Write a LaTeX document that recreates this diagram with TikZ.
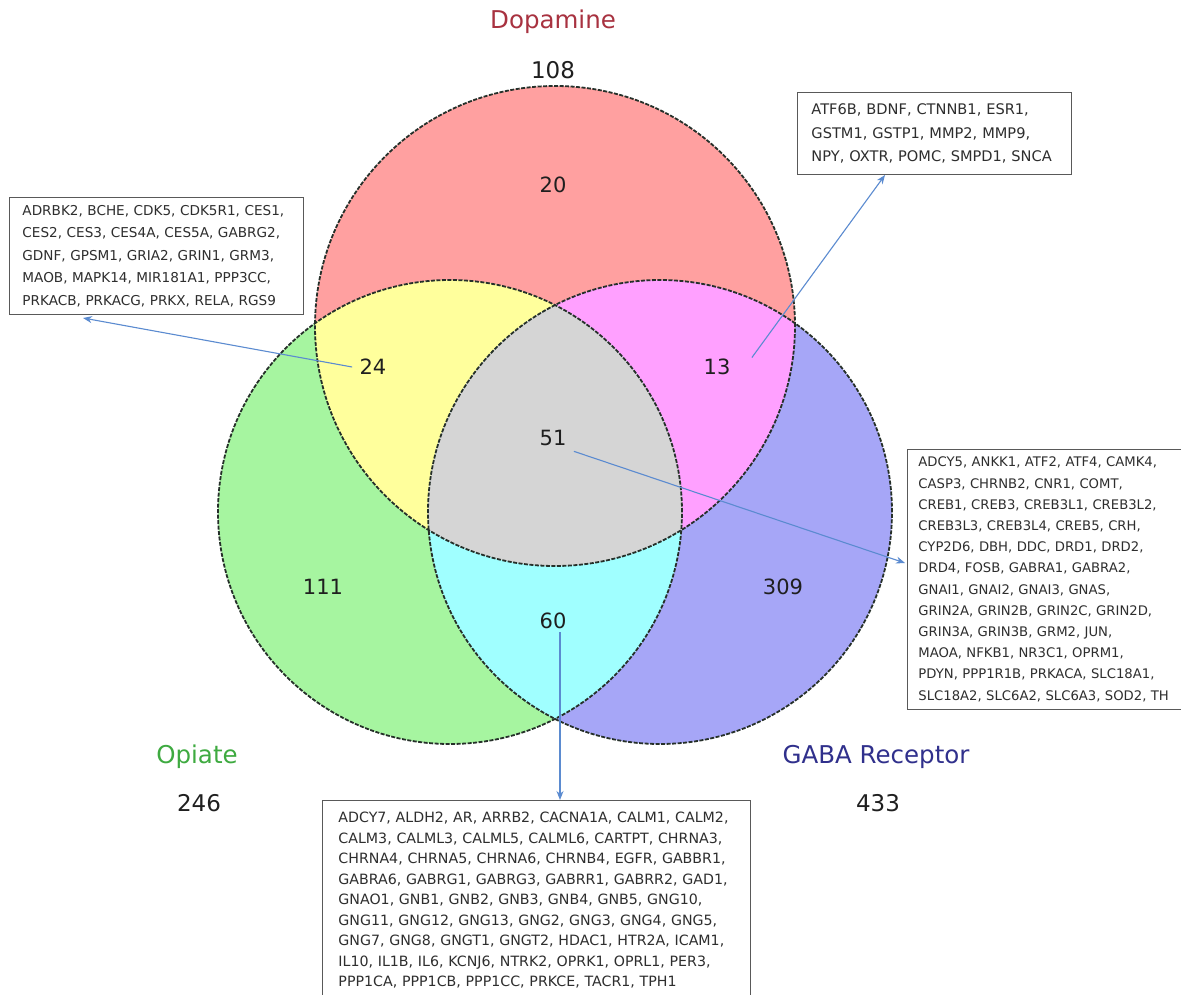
\documentclass[tikz,border=0pt]{standalone}
\usepackage{fontspec}
\setmainfont{DejaVu Sans}
\usetikzlibrary{arrows.meta}
\definecolor{cpink}{HTML}{FFA0A0}
\definecolor{cgreen}{HTML}{A6F5A0}
\definecolor{cblue}{HTML}{A6A6F7}
\definecolor{cyellow}{HTML}{FFFF9C}
\definecolor{cmag}{HTML}{FFA0FF}
\definecolor{ccyan}{HTML}{A0FFFF}
\definecolor{cgrey}{HTML}{D5D5D5}
\definecolor{cdop}{HTML}{A83240}
\definecolor{copi}{HTML}{3EAA40}
\definecolor{cgaba}{HTML}{30308C}
\definecolor{carrow}{HTML}{5B8BD0}
\definecolor{cline}{HTML}{26302A}
\definecolor{ctext}{HTML}{2E2E2E}
\tikzset{
  outline/.style={draw=cline, line width=1.8pt, dash pattern=on 4pt off 1.5pt},
  setname/.style={font=\fontsize{24.5}{28}\selectfont},
  total/.style={font=\fontsize{23}{26}\selectfont, text=black!88},
  regnum/.style={font=\fontsize{21}{24}\selectfont, text=black!88},
  genebox/.style={draw=black!65, line width=0.9pt, fill=white, anchor=north west,
    align=left, text=ctext, inner ysep=0pt},
  arr/.style={draw=carrow, line width=1.1pt, -{Stealth[length=9pt,width=7pt]}}
}
\begin{document}
\begin{tikzpicture}[x=1pt,y=-1pt]
\useasboundingbox (0,0) rectangle (1181,995);
\fill[white] (0,0) rectangle (1181,995);
% base fills
\fill[cpink] (555,326) circle[radius=240pt];
\fill[cgreen] (450,512) circle[radius=232pt];
\fill[cblue] (660,512) circle[radius=232pt];
% pairwise overlaps
\begin{scope}
  \clip (555,326) circle[radius=240pt];
  \fill[cyellow] (450,512) circle[radius=232pt];
\end{scope}
\begin{scope}
  \clip (555,326) circle[radius=240pt];
  \fill[cmag] (660,512) circle[radius=232pt];
\end{scope}
\begin{scope}
  \clip (450,512) circle[radius=232pt];
  \fill[ccyan] (660,512) circle[radius=232pt];
\end{scope}
\begin{scope}
  \clip (555,326) circle[radius=240pt];
  \clip (450,512) circle[radius=232pt];
  \fill[cgrey] (660,512) circle[radius=232pt];
\end{scope}
% outlines
\draw[outline] (555,326) circle[radius=240pt];
\draw[outline] (450,512) circle[radius=232pt];
\draw[outline] (660,512) circle[radius=232pt];

% set names and totals
\node[setname, text=cdop] (ldop) at (553,22) {Dopamine};
\node[total] (tdop) at (553,70) {108};
\node[setname, text=copi] (lopi) at (197,757) {Opiate};
\node[total] (topi) at (199,803) {246};
\node[setname, text=cgaba] (lgaba) at (876,757) {GABA Receptor};
\node[total] (tgaba) at (878,803) {433};

% region counts
\node[regnum] (n20) at (553,185) {20};
\node[regnum] (n24) at (373,367) {24};
\node[regnum] (n13) at (717,367) {13};
\node[regnum] (n51) at (553,438) {51};
\node[regnum] (n111) at (323,587) {111};
\node[regnum] (n309) at (783,587) {309};
\node[regnum] (n60) at (553,621) {60};

% gene boxes
\node[genebox, inner xsep=14pt, text width=246pt, minimum height=82pt,
  font=\fontsize{14.6}{23.5}\selectfont] (btr) at (797,92)
  {ATF6B, BDNF, CTNNB1, ESR1,\\
   GSTM1, GSTP1, MMP2, MMP9,\\
   NPY, OXTR, POMC, SMPD1, SNCA};
\node[genebox, inner xsep=13pt, text width=268pt, minimum height=117pt,
  font=\fontsize{13.6}{22.5}\selectfont] (bl) at (9,197)
  {ADRBK2, BCHE, CDK5, CDK5R1, CES1,\\
   CES2, CES3, CES4A, CES5A, GABRG2,\\
   GDNF, GPSM1, GRIA2, GRIN1, GRM3,\\
   MAOB, MAPK14, MIR181A1, PPP3CC,\\
   PRKACB, PRKACG, PRKX, RELA, RGS9};
\node[genebox, inner xsep=11pt, text width=260pt, minimum height=260pt,
  font=\fontsize{13.2}{21.2}\selectfont] (br) at (907,449)
  {ADCY5, ANKK1, ATF2, ATF4, CAMK4,\\
   CASP3, CHRNB2, CNR1, COMT,\\
   CREB1, CREB3, CREB3L1, CREB3L2,\\
   CREB3L3, CREB3L4, CREB5, CRH,\\
   CYP2D6, DBH, DDC, DRD1, DRD2,\\
   DRD4, FOSB, GABRA1, GABRA2,\\
   GNAI1, GNAI2, GNAI3, GNAS,\\
   GRIN2A, GRIN2B, GRIN2C, GRIN2D,\\
   GRIN3A, GRIN3B, GRM2, JUN,\\
   MAOA, NFKB1, NR3C1, OPRM1,\\
   PDYN, PPP1R1B, PRKACA, SLC18A1,\\
   SLC18A2, SLC6A2, SLC6A3, SOD2, TH};
\node[genebox, inner xsep=16pt, text width=396pt, minimum height=200pt,
  font=\fontsize{14.2}{20.5}\selectfont] (bb) at (322,800)
  {ADCY7, ALDH2, AR, ARRB2, CACNA1A, CALM1, CALM2,\\
   CALM3, CALML3, CALML5, CALML6, CARTPT, CHRNA3,\\
   CHRNA4, CHRNA5, CHRNA6, CHRNB4, EGFR, GABBR1,\\
   GABRA6, GABRG1, GABRG3, GABRR1, GABRR2, GAD1,\\
   GNAO1, GNB1, GNB2, GNB3, GNB4, GNB5, GNG10,\\
   GNG11, GNG12, GNG13, GNG2, GNG3, GNG4, GNG5,\\
   GNG7, GNG8, GNGT1, GNGT2, HDAC1, HTR2A, ICAM1,\\
   IL10, IL1B, IL6, KCNJ6, NTRK2, OPRK1, OPRL1, PER3,\\
   PPP1CA, PPP1CB, PPP1CC, PRKCE, TACR1, TPH1};

% arrow end points on the boxes
\coordinate (e24) at (83,318);
\coordinate (e13) at (885,175);
\coordinate (e51) at (905,563);
\coordinate (e60) at (560,800);

% connectors
\draw[arr] ([xshift=-4pt]n24.west) -- (e24);
\draw[arr] ([xshift=18pt,yshift=-2pt]n13.north east) -- (e13);
\draw[arr] ([xshift=4pt,yshift=-2pt]n51.south east) -- (e51);
\draw[arr] ([xshift=7pt]n60.south) -- (e60);
\end{tikzpicture}
\end{document}
